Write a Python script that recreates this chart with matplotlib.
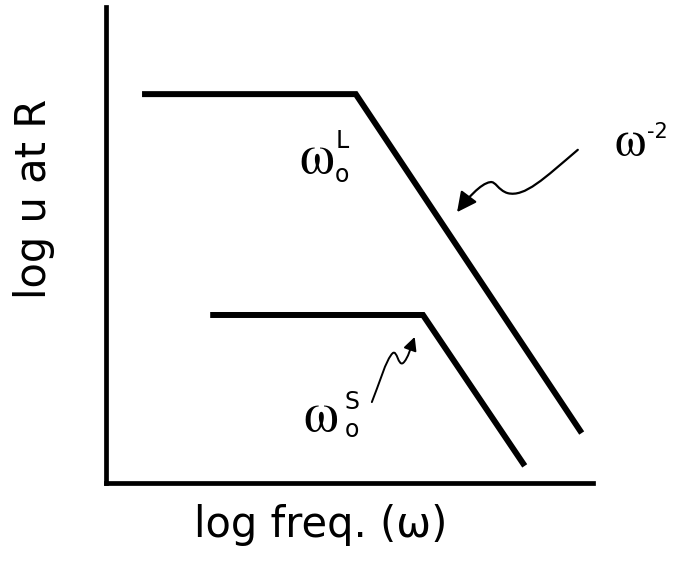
import numpy as np
import matplotlib.pyplot as plt
from matplotlib.path import Path
from matplotlib.patches import FancyArrowPatch

# spectra in arbitrary log units: flat plateau then omega^-2 fall-off
large_x = [0.74, 5.13, 9.77]
large_y = [8.17, 8.17, 1.05]
small_x = [2.14, 6.51, 8.60]
small_y = [3.53, 3.53, 0.36]

x_label = "log freq. (ω)"
y_label = "log u at R"

fig = plt.figure(figsize=(6.8, 5.61), dpi=100)
ax = fig.add_axes([0.1559, 0.139, 0.716, 0.8485])
ax.set_xlim(0, 10)
ax.set_ylim(0, 10)

ax.plot(large_x, large_y, color='black', lw=4.3, solid_joinstyle='miter', solid_capstyle='butt')
ax.plot(small_x, small_y, color='black', lw=4.3, solid_joinstyle='miter', solid_capstyle='butt')

for side in ['top', 'right']:
    ax.spines[side].set_visible(False)
for side in ['left', 'bottom']:
    ax.spines[side].set_linewidth(3.4)
    ax.spines[side].set_capstyle('projecting')
ax.set_xticks([])
ax.set_yticks([])

ax.set_xlabel(x_label, fontsize=30, family='DejaVu Sans')
ax.set_ylabel(y_label, fontsize=30, family='DejaVu Sans')
ax.xaxis.set_label_coords(0.441, -0.045)
ax.yaxis.set_label_coords(-0.105, 0.597)


def omega_label(x, y, sub, sup, dx=0.52, sub_dy=-0.32, sup_dy=0.40, size=40, small=17):
    ax.text(x, y, 'ω', fontsize=size, family='STIXGeneral', ha='center', va='center')
    if sub:
        ax.text(x + dx, y + sub_dy, sub, fontsize=small, family='DejaVu Sans', ha='center', va='center')
    if sup:
        ax.text(x + dx, y + sup_dy, sup, fontsize=small, family='DejaVu Sans', ha='center', va='center')


omega_label(4.33, 6.79, 'o', 'L')
omega_label(4.41, 1.37, 'o', 'S', dx=0.64, sub_dy=-0.26, sup_dy=0.33)
omega_label(10.76, 7.12, None, None, size=36)
ax.text(11.33, 7.37, '-2', fontsize=15, family='DejaVu Sans', ha='center', va='center')

# wavy pointer arrows
upper = Path([(9.69, 7.00), (9.0, 6.4), (8.6, 6.0), (8.25, 6.09),
              (8.05, 6.15), (8.0, 6.35), (7.89, 6.32),
              (7.7, 6.3), (7.4, 5.95), (7.21, 5.69)],
             [Path.MOVETO] + [Path.CURVE4] * 9)
ax.add_patch(FancyArrowPatch(path=upper, arrowstyle='-|>,head_length=0.6,head_width=0.3',
                             mutation_scale=20, color='black', lw=1.6))

lower = Path([(5.46, 1.70), (5.6, 2.05), (5.75, 2.6), (5.89, 2.73),
              (5.98, 2.8), (6.0, 2.45), (6.10, 2.52),
              (6.2, 2.6), (6.28, 2.9), (6.34, 3.07)],
             [Path.MOVETO] + [Path.CURVE4] * 9)
ax.add_patch(FancyArrowPatch(path=lower, arrowstyle='-|>,head_length=0.4,head_width=0.2',
                             mutation_scale=20, color='black', lw=1.4))

fig.savefig('out.png', dpi=100)
